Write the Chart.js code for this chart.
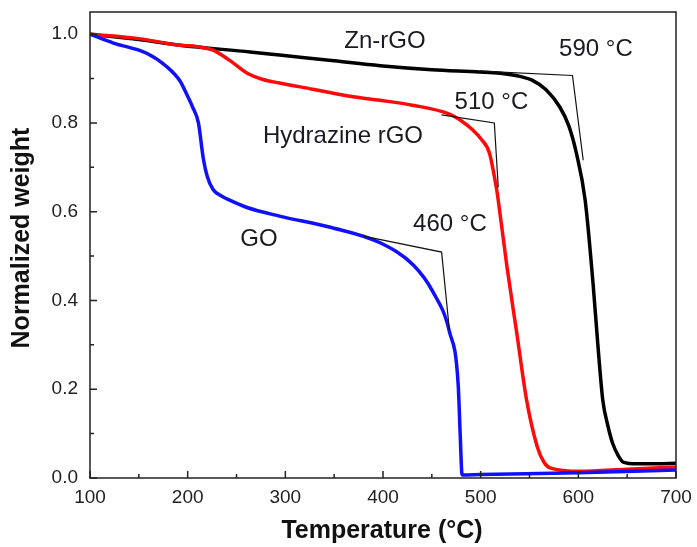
<!DOCTYPE html>
<html lang="en">
<head>
    <meta charset="UTF-8">
    <script src="https://cdn.jsdelivr.net/npm/chart.js"></script>
    <title>TGA</title>
    <style>
        html, body { margin: 0; padding: 0; background: #fff; }
        .chart-box { width: 697px; height: 547px; }
    </style>
</head>
<body>
    <div class="chart-box"><canvas id="chart1"></canvas></div>

    <script>
        // Temperature (°C) and normalized weight
        const goTemp = [100, 124, 158, 179, 192, 200, 205, 211, 216, 220, 226, 235, 243, 260, 294, 346, 397, 431, 451, 468, 477, 479, 481, 500, 600, 700];
        const goWeight = [1.0, 0.98, 0.957, 0.926, 0.895, 0.86, 0.836, 0.80, 0.72, 0.68, 0.65, 0.635, 0.626, 0.61, 0.59, 0.565, 0.53, 0.48, 0.42, 0.33, 0.21, 0.10, 0.007, 0.008, 0.012, 0.018];

        const hydTemp = [100, 150, 192, 210, 226, 243, 261, 277, 294, 328, 366, 397, 430, 468, 480, 492, 500, 509, 516, 518, 527, 537, 547, 558, 565, 571, 602, 650, 700];
        const hydWeight = [1.0, 0.99, 0.975, 0.972, 0.964, 0.941, 0.912, 0.898, 0.89, 0.876, 0.86, 0.851, 0.84, 0.82, 0.805, 0.784, 0.765, 0.732, 0.655, 0.626, 0.475, 0.326, 0.176, 0.07, 0.035, 0.023, 0.015, 0.02, 0.025];

        const znTemp = [100, 150, 192, 264, 294, 350, 397, 450, 499, 520, 540, 553, 567, 581, 590, 598, 607, 615, 620, 625, 630, 635, 641, 646, 660, 680, 700];
        const znWeight = [1.0, 0.988, 0.975, 0.96, 0.953, 0.94, 0.929, 0.92, 0.915, 0.912, 0.905, 0.896, 0.875, 0.836, 0.795, 0.732, 0.626, 0.44, 0.30, 0.176, 0.12, 0.079, 0.05, 0.036, 0.032, 0.032, 0.033];

        // onset tangent construction lines
        const znTanX = [500, 594, 605];
        const znTanY = [0.917, 0.907, 0.716];
        const hydTanX = [460, 514, 518];
        const hydTanY = [0.818, 0.80, 0.655];
        const goTanX = [380, 460, 468];
        const goTanY = [0.545, 0.509, 0.333];

        const xTicks = [100, 200, 300, 400, 500, 600, 700];
        const yTicks = [0.0, 0.2, 0.4, 0.6, 0.8, 1.0];
        const xMinor = [150, 250, 350, 450, 550, 650];
        const yMinor = [0.1, 0.3, 0.5, 0.7, 0.9];

        const labelText = ["Zn-rGO", "590 °C", "510 °C", "Hydrazine rGO", "460 °C", "GO"];
        const labelX = [402, 618, 511, 359, 468.5, 273];
        const labelY = [0.984, 0.966, 0.846, 0.770, 0.571, 0.537];

        const FONT = '"Liberation Sans", Arial, sans-serif';

        const pts = (xs, ys) => xs.map((x, i) => ({ x: x, y: ys[i] }));

        const curve = (label, xs, ys, color) => ({
            label: label,
            data: pts(xs, ys),
            borderColor: color,
            borderWidth: 3.5,
            pointRadius: 0,
            cubicInterpolationMode: 'monotone',
            fill: false
        });

        const tangent = (xs, ys) => ({
            data: pts(xs, ys),
            borderColor: '#111',
            borderWidth: 1.2,
            pointRadius: 0,
            tension: 0,
            fill: false
        });

        // frame, inward ticks, axis titles and text labels
        const framePlugin = {
            id: 'frame',
            afterDraw(chart) {
                const ctx = chart.ctx;
                const a = chart.chartArea;
                const xs = chart.scales.x, ys = chart.scales.y;
                ctx.save();
                ctx.strokeStyle = '#222';
                ctx.lineWidth = 1.5;
                ctx.strokeRect(a.left, a.top, a.right - a.left, a.bottom - a.top);
                ctx.beginPath();
                xTicks.forEach(v => { const p = xs.getPixelForValue(v); ctx.moveTo(p, a.bottom); ctx.lineTo(p, a.bottom - 7); });
                xMinor.forEach(v => { const p = xs.getPixelForValue(v); ctx.moveTo(p, a.bottom); ctx.lineTo(p, a.bottom - 4); });
                yTicks.forEach(v => { const p = ys.getPixelForValue(v); ctx.moveTo(a.left, p); ctx.lineTo(a.left + 7, p); });
                yMinor.forEach(v => { const p = ys.getPixelForValue(v); ctx.moveTo(a.left, p); ctx.lineTo(a.left + 4, p); });
                ctx.stroke();

                ctx.fillStyle = '#1a1a22';
                ctx.font = '24px ' + FONT;
                ctx.textAlign = 'center';
                ctx.textBaseline = 'middle';
                labelText.forEach((t, i) => {
                    ctx.fillText(t, xs.getPixelForValue(labelX[i]), ys.getPixelForValue(labelY[i]));
                });

                // axis titles
                ctx.fillStyle = '#111';
                ctx.font = 'bold 25px ' + FONT;
                ctx.fillText('Temperature (°C)', (a.left + a.right) / 2 - 1, 531);
                ctx.translate(22, 238);
                ctx.rotate(-Math.PI / 2);
                ctx.fillText('Normalized weight', 0, 0);
                ctx.restore();
            }
        };

        new Chart(document.getElementById('chart1').getContext('2d'), {
            type: 'line',
            data: {
                datasets: [
                    tangent(znTanX, znTanY),
                    tangent(hydTanX, hydTanY),
                    tangent(goTanX, goTanY),
                    curve('GO', goTemp, goWeight, '#1010ff'),
                    curve('Hydrazine rGO', hydTemp, hydWeight, '#ff0a0a'),
                    curve('Zn-rGO', znTemp, znWeight, '#000000')
                ]
            },
            options: {
                responsive: true,
                maintainAspectRatio: false,
                animation: false,
                layout: { padding: { top: 12, right: 21, left: 0, bottom: 0 } },
                plugins: {
                    legend: { display: false },
                    tooltip: { enabled: false }
                },
                scales: {
                    x: {
                        type: 'linear',
                        min: 100,
                        max: 700,
                        afterBuildTicks: s => { s.ticks = xTicks.map(v => ({ value: v })); },
                        afterFit: s => { s.height = 69; s.paddingLeft = 0; s.paddingRight = 0; },
                        grid: { display: false, drawTicks: false },
                        border: { display: false },
                        ticks: {
                            color: '#222',
                            padding: 8,
                            maxRotation: 0,
                            font: { family: FONT, size: 19 }
                        }
                    },
                    y: {
                        min: 0,
                        max: 1.05,
                        afterBuildTicks: s => { s.ticks = yTicks.map(v => ({ value: v })); },
                        afterFit: s => { s.width = 90; s.paddingTop = 0; s.paddingBottom = 0; },
                        grid: { display: false, drawTicks: false },
                        border: { display: false },
                        ticks: {
                            color: '#222',
                            padding: 12,
                            callback: v => v.toFixed(1),
                            font: { family: FONT, size: 19 }
                        }
                    }
                }
            },
            plugins: [framePlugin]
        });
    </script>
</body>
</html>
